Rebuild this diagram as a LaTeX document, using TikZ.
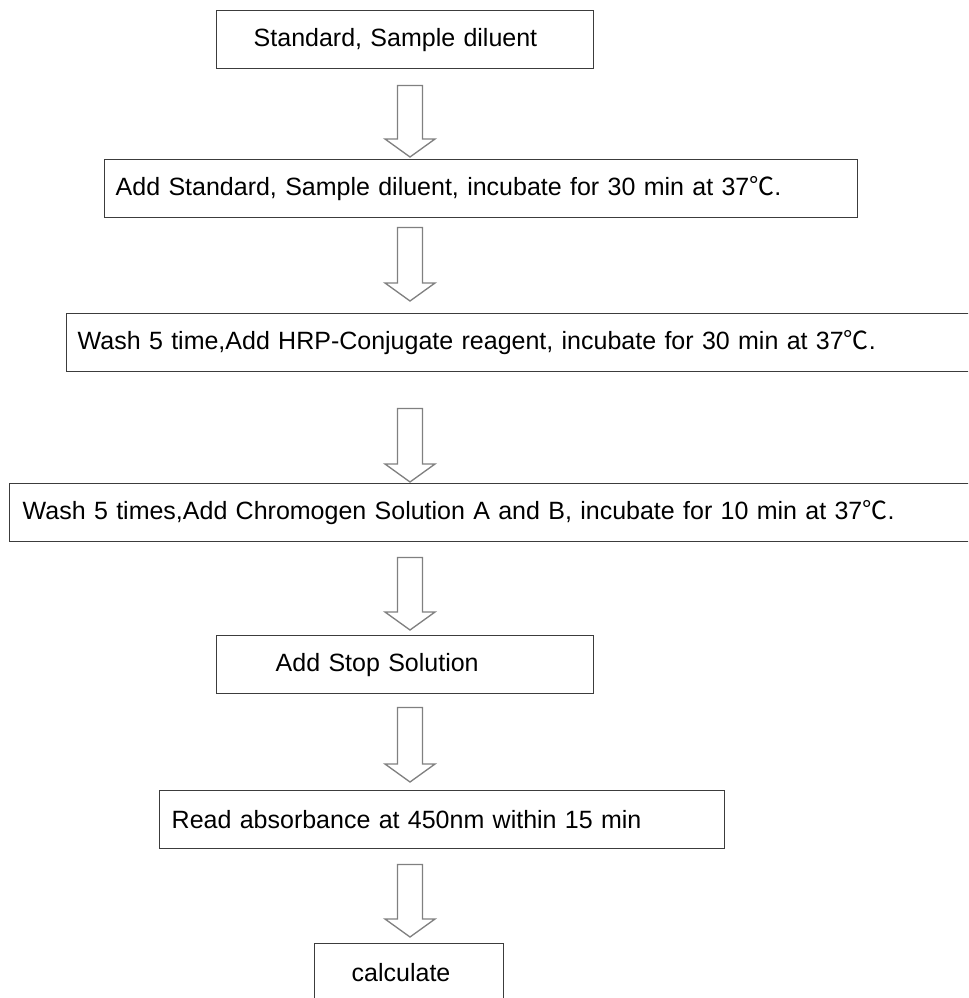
\documentclass[tikz,border=0pt]{standalone}
\usepackage{fontspec}
\setmainfont{Liberation Sans}
\newfontfamily\cjk{Noto Sans CJK SC}
\usetikzlibrary{calc}
\definecolor{boxline}{HTML}{3C3C3C}
\definecolor{arrowline}{HTML}{808080}
\newcommand{\degc}{{\cjk ℃}}
\newcommand{\flowarrow}[4]{%
  \draw[hollow] ($(col |- #1.south)+(-12.5,#3)$) -- ($(col |- #2.north)+(-12.5,-18-#4)$)
    -- ++(-12.5,0) -- ($(col |- #2.north)+(0,-#4)$) -- ++(25,-18) -- ++(-12.5,0)
    -- ($(col |- #1.south)+(12.5,#3)$) -- cycle;}

\begin{document}
\begin{tikzpicture}[x=0.75pt,y=-0.75pt,
  stepbox/.style={draw=boxline, line width=1.1pt, anchor=north west, align=left,
    minimum height=43.5pt, inner ysep=0pt, font=\fontsize{18.75}{22}\selectfont},
  hollow/.style={draw=arrowline, line width=1pt, line join=miter}]
  \clip (0,0) rectangle (968,998);
  \coordinate (col) at (410,0);
  \node[stepbox, text width=227.25pt, inner xsep=27.75pt] (diluent) at (216,10) {Standard, Sample diluent};
  \node[stepbox, text width=548.25pt, inner xsep=8.25pt] (sample) at (104,159) {Add Standard, Sample diluent, incubate for 30 min at 37\degc.};
  \node[stepbox, text width=684pt, inner xsep=8.25pt] (hrp) at (66,313) {Wash 5 time,Add HRP-Conjugate reagent, incubate for 30 min at 37\degc.};
  \node[stepbox, text width=723.75pt, inner xsep=9.75pt] (chromo) at (9,483) {Wash 5 times,Add Chromogen Solution A and B, incubate for 10 min at 37\degc.};
  \node[stepbox, text width=194.25pt, inner xsep=44.25pt] (stop) at (216,635) {Add Stop Solution};
  \node[stepbox, text width=405.75pt, inner xsep=9pt] (read) at (159,790) {Read absorbance at 450nm within 15 min};
  \node[stepbox, text width=86.25pt, inner xsep=27.75pt] (calc) at (314,943) {calculate};
  \flowarrow{diluent}{sample}{16}{2}
  \flowarrow{sample}{hrp}{9}{12}
  \flowarrow{hrp}{chromo}{36}{1}
  \flowarrow{chromo}{stop}{15}{5}
  \flowarrow{stop}{read}{13}{8}
  \flowarrow{read}{calc}{15}{6}
\end{tikzpicture}
\end{document}
